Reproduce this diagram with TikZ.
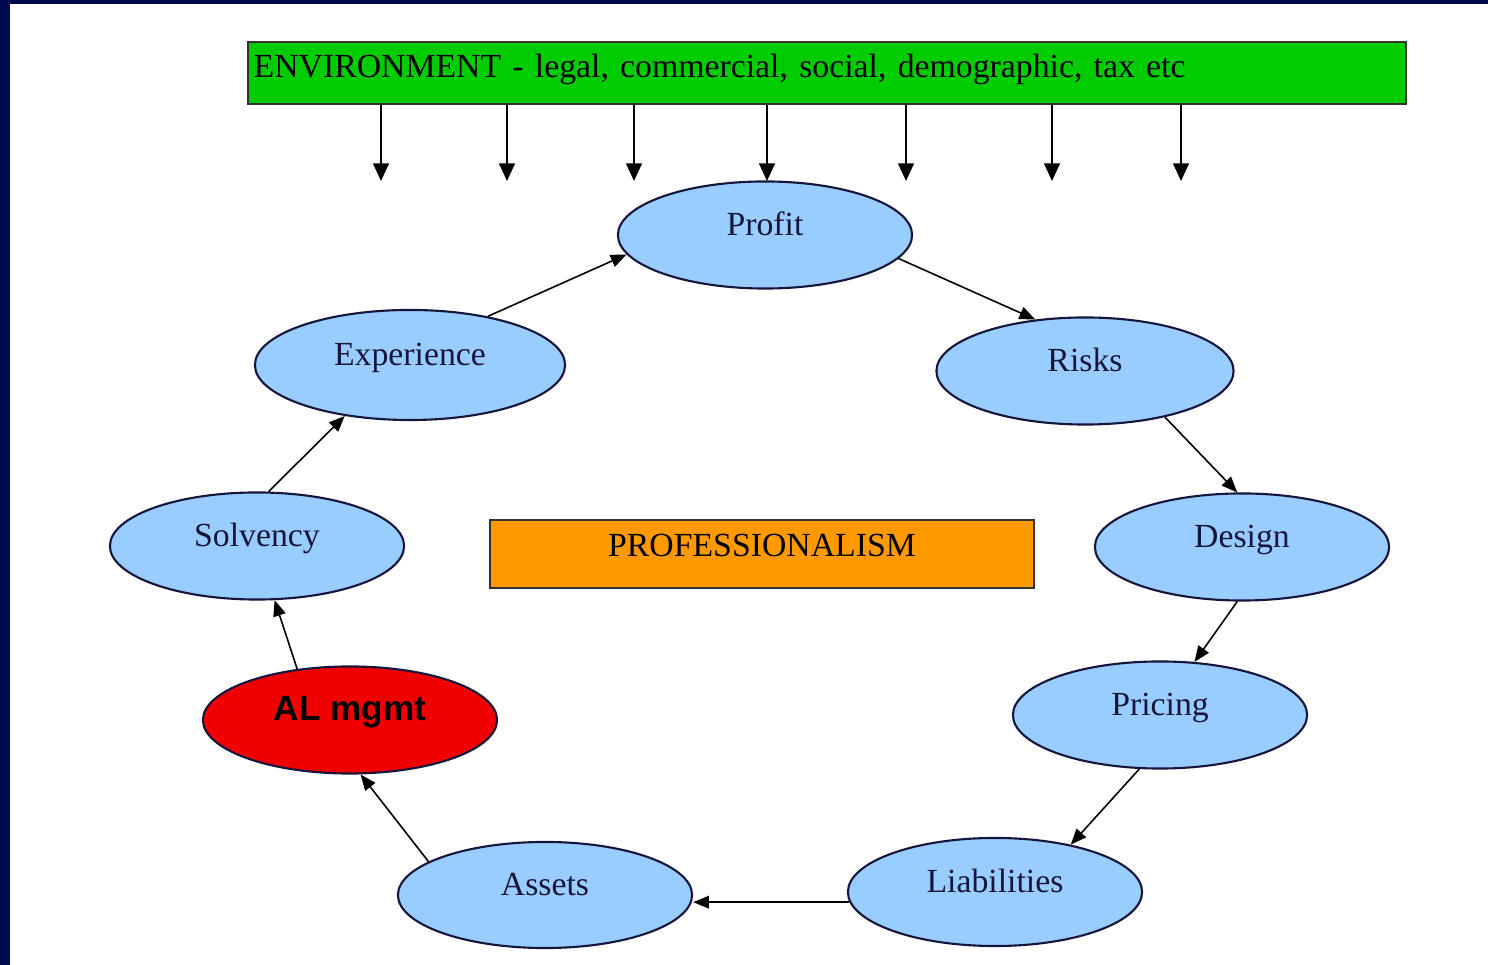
\documentclass[tikz,border=0pt]{standalone}
\usepackage{fontspec}
\setmainfont{Liberation Serif}
\newfontfamily\alfont{Liberation Sans}
\usetikzlibrary{shapes.geometric,arrows.meta}

\definecolor{slidenavy}{RGB}{0,8,78}
\definecolor{envgreen}{RGB}{0,204,0}
\definecolor{stageblue}{RGB}{153,204,255}
\definecolor{proforange}{RGB}{255,153,0}
\definecolor{almred}{RGB}{240,0,0}
\definecolor{inkblue}{RGB}{22,22,60}

\tikzset{
  stage/.style={ellipse, draw=inkblue, line width=0.6pt, fill=stageblue, text=inkblue,
    minimum width=2.94cm, minimum height=1.07cm, inner sep=1pt,
    font=\fontsize{9.6}{11}\selectfont, text height=7pt, text depth=6.6pt},
  flow/.style={-{Triangle[length=4.5pt,width=3.6pt]}, line width=0.45pt},
  drop/.style={-{Triangle[length=5pt,width=4.5pt]}, line width=0.5pt},
}

\begin{document}
\begin{tikzpicture}[x=0.01cm, y=-0.01cm]
  % slide frame
  \useasboundingbox (0,0) rectangle (1488,965);
  \fill[slidenavy] (0,0) rectangle (1488,965);
  \fill[white] (10,4) rectangle (1488,965);

  % environment banner and its arrows
  \node[draw=black!80, line width=0.6pt, fill=envgreen, minimum height=0.62cm,
        text width=11.46cm, inner xsep=0.06cm, inner ysep=0pt, align=left,
        font=\fontsize{9.6}{11}\selectfont, text height=7pt, text depth=4.2pt]
        (env) at (827,73) {ENVIRONMENT - legal, commercial, social, demographic, tax etc};
  \foreach \x in {381,507,634,767,906,1052,1181}{
    \coordinate (top\x) at (\x,181);
    \draw[drop] (env.south -| top\x) -- (top\x);
  }

  % the cycle
  \node[stage] (prof) at (765,235) {Profit};
  \node[stage, minimum width=3.1cm, minimum height=1.1cm] (exp) at (410,365) {Experience};
  \node[stage, minimum width=2.97cm] (risk) at (1085,371) {Risks};
  \node[stage] (solv) at (257,546) {Solvency};
  \node[stage] (dsgn) at (1242,547) {Design};
  \node[stage, fill=almred, text=black, font=\alfont\bfseries\fontsize{10}{12}\selectfont]
        (alm) at (350,720) {AL mgmt};
  \node[stage] (pric) at (1160,715) {Pricing};
  \node[stage, minimum height=1.06cm] (asst) at (545,895) {Assets};
  \node[stage, minimum height=1.08cm] (liab) at (995,892) {Liabilities};

  % centre box
  \node[draw=black!80, line width=0.6pt, fill=proforange, minimum width=5.44cm,
        minimum height=0.68cm, inner sep=0pt, font=\fontsize{9.6}{11}\selectfont,
        text height=7pt, text depth=5.3pt] (prfs) at (762,554) {PROFESSIONALISM};

  % connectors round the ring
  \draw[flow] (exp.32) -- (prof.188);
  \draw[flow] (prof.350) -- (risk.134);
  \draw[flow] (risk.330) -- (dsgn.95);
  \draw[flow] (dsgn.265) -- (pric.57);
  \draw[flow] (pric.249) -- (liab.32);
  \draw[flow] (liab.184) -- (liab.184 -| asst.east);
  \draw[flow] (asst.164) -- (alm.281);
  \draw[flow] (alm.136) -- (solv.288);
  \draw[flow] (solv.78) -- (exp.218);
\end{tikzpicture}
\end{document}
